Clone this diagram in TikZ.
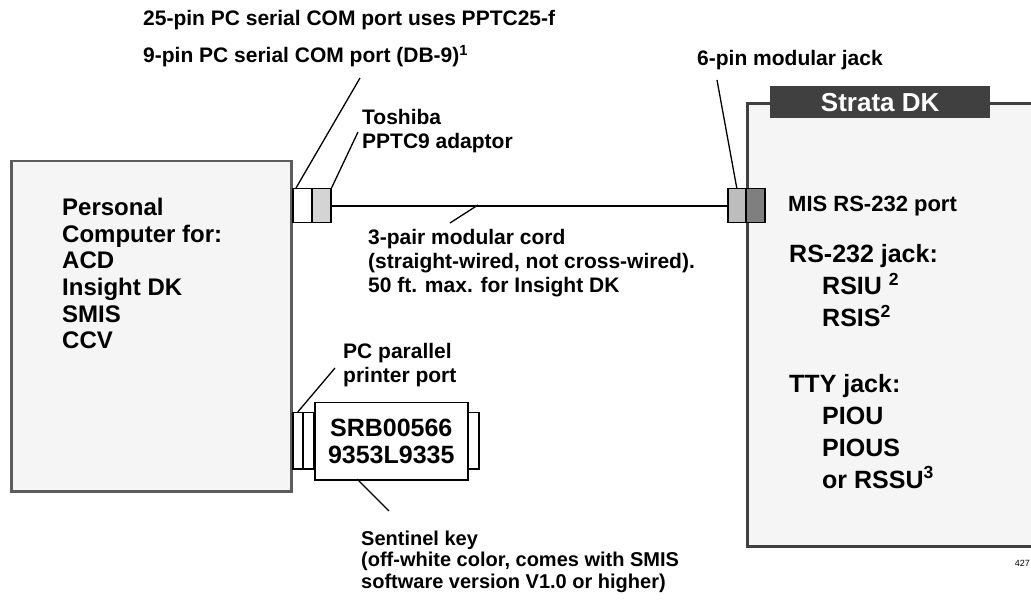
\documentclass[tikz,border=0pt]{standalone}
\usepackage{fontspec}
\setmainfont{Liberation Sans}
\definecolor{boxfill}{HTML}{F5F5F5}
\definecolor{pcline}{HTML}{5C5C5C}
\definecolor{dkline}{HTML}{404040}
\definecolor{adpfill}{HTML}{D4D4D4}
\definecolor{jackfill}{HTML}{BDBDBD}
\definecolor{portfill}{HTML}{7F7F7F}
\tikzset{
  lbl/.style={font=\bfseries\fontsize{21}{24}\selectfont,align=left,inner sep=0pt,anchor=base west},
  bigtxt/.style={font=\bfseries\fontsize{24}{26.7}\selectfont,align=left,inner sep=0pt,anchor=base west},
  dktxt/.style={font=\bfseries\fontsize{25}{32}\selectfont,align=left,inner sep=0pt,anchor=base west},
  plug/.style={draw=black,line width=1.5pt,anchor=north west,inner sep=0pt},
  leader/.style={line width=1.3pt},
}
\begin{document}
\begin{tikzpicture}[x=1pt,y=-1pt]
\clip (0,0) rectangle (1031,601);
\fill[white] (0,0) rectangle (1031,601);

% the PC (base of a text block = its last line)
\node[draw=pcline,fill=boxfill,line width=2.5pt,anchor=north west,minimum width=280,minimum height=330] (pc) at (10,160) {};
\node[bigtxt] (pctxt) at (62,349) {Personal\\Computer for:\\ACD\\Insight DK\\SMIS\\CCV};

% the Strata DK
\node[draw=dkline,fill=boxfill,line width=3pt,anchor=north west,minimum width=400,minimum height=443] (dk) at (746,102) {};
\node[fill=dkline,text=white,font=\bfseries\fontsize{26}{30}\selectfont,anchor=north west,minimum width=220,minimum height=32,inner sep=0pt] (tab) at (770,86) {Strata DK};
\node[lbl,font=\bfseries\fontsize{22}{26}\selectfont] (misport) at (788,212) {MIS RS-232 port};
\node[dktxt] (rsjack) at (789,327) {RS-232 jack:\\\hspace*{33pt}RSIU \textsuperscript{2}\\\hspace*{33pt}RSIS\textsuperscript{2}};
\node[dktxt] (ttyjack) at (789,488) {TTY jack:\\\hspace*{33pt}PIOU\\\hspace*{33pt}PIOUS\\\hspace*{33pt}or RSSU\textsuperscript{3}};

% serial side
\node[plug,fill=white,minimum width=19,minimum height=34] (db9) at (292,188) {};
\node[plug,fill=adpfill,minimum width=19,minimum height=34] (adp) at (311,188) {};
\node[plug,fill=jackfill,minimum width=18,minimum height=34] (rj) at (727,188) {};
\node[plug,fill=portfill,minimum width=19,minimum height=34] (mis) at (745,188) {};
\draw[line width=2pt] (adp.east) -- (rj.west);

% parallel side
\node[plug,fill=white,minimum width=10,minimum height=56] (lpt) at (292,412) {};
\node[plug,fill=white,minimum width=11,minimum height=56] (lptb) at (302,412) {};
\node[plug,fill=white,minimum width=11,minimum height=56] (keyend) at (467,412) {};
\node[plug,fill=white,minimum width=153,minimum height=77,align=center,font=\bfseries\fontsize{25}{27}\selectfont] (key) at (314,402) {SRB00566\\9353L9335};

% labels
\node[lbl] (pin25) at (143,26) {25-pin PC serial COM port uses PPTC25-f};
\node[lbl] (pin9) at (143,63) {9-pin PC serial COM port (DB-9)\textsuperscript{1}};
\node[lbl] (tosh) at (362,149) {Toshiba\\PPTC9 adaptor};
\node[lbl] (jack6) at (697,66) {6-pin modular jack};
\node[lbl] (cord) at (368,293) {3-pair modular cord\\(straight-wired, not cross-wired).\\50 ft. max. for Insight DK};
\node[lbl] (lptlbl) at (343,383) {PC parallel\\printer port};
\node[lbl,font=\bfseries\fontsize{20}{21.5}\selectfont] (sentinel) at (361,588) {Sentinel key\\(off-white color, comes with SMIS\\software version V1.0 or higher)};
\node[font=\fontsize{9}{10}\selectfont,inner sep=0pt,anchor=base east] (fignum) at (1030,566) {427};

% leaders
\coordinate (p9) at (360,78);
\coordinate (pt) at (358,132);
\coordinate (p6) at (717,80);
\coordinate (pc1) at (450,223);
\coordinate (pc2) at (478,205);
\coordinate (pl) at (335,368);
\coordinate (ps1) at (357,479);
\coordinate (ps2) at (389,511);
\draw[leader] (p9) -- ([xshift=4pt]db9.north west);
\draw[leader] (pt) -- (adp.north east);
\draw[leader] (p6) -- (rj.north);
\draw[leader] (pc1) -- (pc2);
\draw[leader] (pl) -- (lpt.north);
\draw[leader] (ps1) -- (ps2);
\end{tikzpicture}
\end{document}
